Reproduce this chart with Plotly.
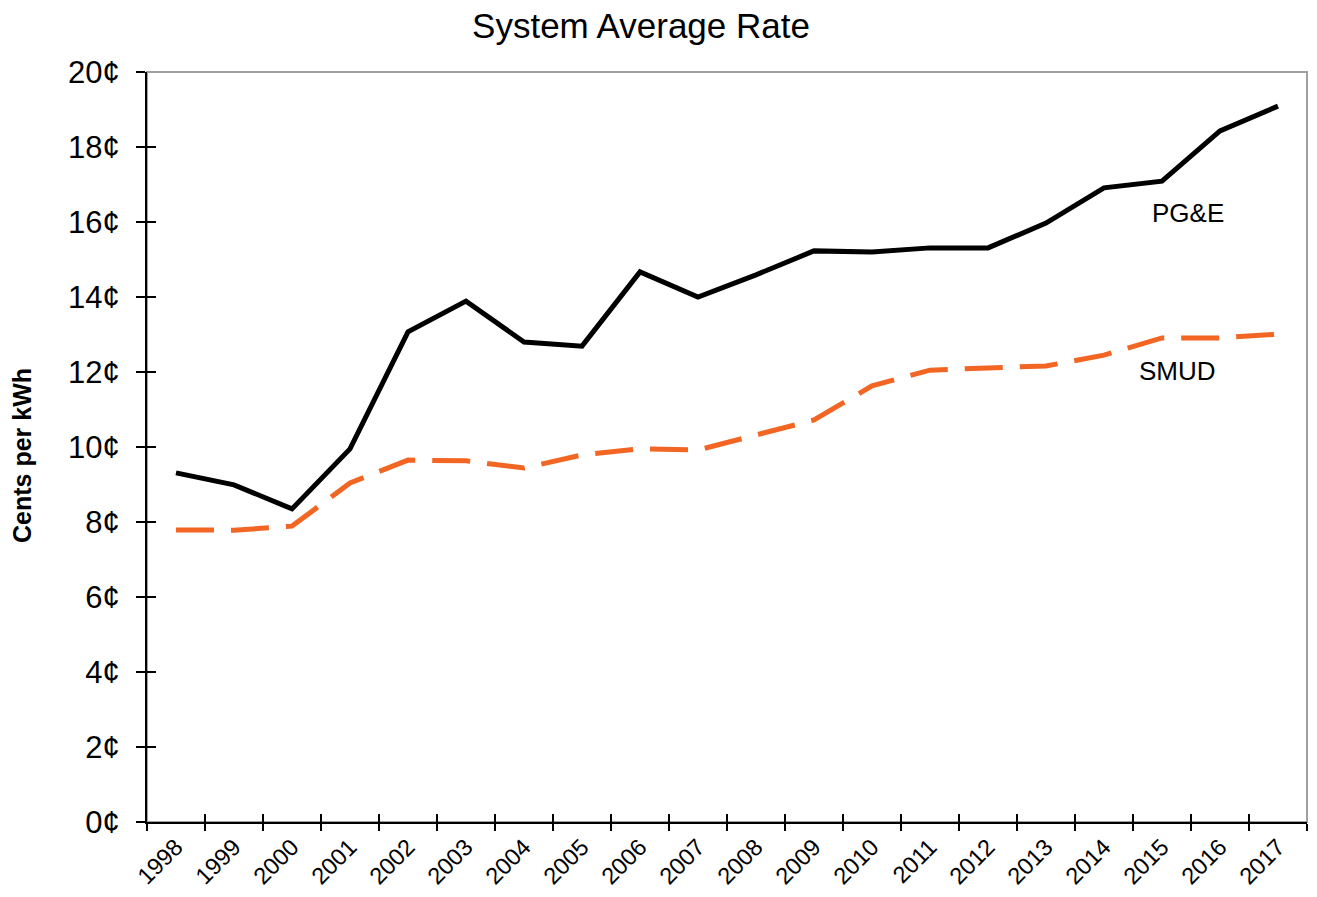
import plotly.graph_objects as go

years = [str(y) for y in range(1998, 2018)]
pge = [9.31, 8.99, 8.35, 9.95, 13.07, 13.89, 12.80, 12.69, 14.67, 14.00,
       14.59, 15.23, 15.20, 15.31, 15.31, 15.97, 16.91, 17.09, 18.43, 19.09]
smud = [7.79, 7.78, 7.89, 9.04, 9.65, 9.63, 9.44, 9.79, 9.95, 9.92,
        10.32, 10.72, 11.63, 12.05, 12.11, 12.16, 12.45, 12.91, 12.91, 13.01]
y_ticks = list(range(0, 21, 2))
y_ticktext = [f"{v}¢" for v in y_ticks]

FONT = "Liberation Sans, Arial, sans-serif"
ORANGE = "#F26522"
W, H = 1301, 881

fig = go.Figure()
fig.add_trace(go.Scatter(x=years, y=smud, mode="lines", name="SMUD",
                         line=dict(color=ORANGE, width=5, dash="38px,17px"),
                         hoverinfo="skip", showlegend=False))
fig.add_trace(go.Scatter(x=years, y=pge, mode="lines", name="PG&E",
                         line=dict(color="#000000", width=5),
                         hoverinfo="skip", showlegend=False))
# invisible helper trace for the inner half of the crossing tick marks
fig.add_trace(go.Scatter(x=years, y=pge, mode="lines", xaxis="x2", yaxis="y2",
                         line=dict(width=0), opacity=0, hoverinfo="skip",
                         showlegend=False))

fig.update_layout(
    width=W, height=H,
    margin=dict(l=139, r=2, t=64, b=67, autoexpand=False),
    paper_bgcolor="white", plot_bgcolor="white",
    font=dict(family=FONT, color="#000000"),
    title=dict(text="System Average Rate", x=633 / W, xanchor="center",
               y=1 - 18 / H, yanchor="middle", xref="container", yref="container",
               font=dict(size=35, family=FONT, color="#000000")),
    xaxis=dict(type="category", categoryorder="array", categoryarray=years,
               range=[-0.5, 19.5], tickson="boundaries", ticks="outside",
               ticklen=7, tickwidth=1.5, tickcolor="#000000",
               showline=True, linecolor="#000000", linewidth=2,
               showgrid=False, zeroline=False, tickangle=-45, automargin=False,
               tickfont=dict(size=23.5, family=FONT, color="#000000")),
    yaxis=dict(range=[0, 20], tickvals=y_ticks, ticktext=y_ticktext,
               ticks="outside", ticklen=9, tickwidth=1.5, tickcolor="#000000",
               showline=True, linecolor="#000000", linewidth=2,
               showgrid=False, zeroline=False, automargin=False,
               ticklabelstandoff=10,
               tickfont=dict(size=31, family=FONT, color="#000000")),
    xaxis2=dict(type="category", categoryorder="array", categoryarray=years,
                overlaying="x", range=[-0.5, 19.5], tickson="boundaries",
                ticks="inside", ticklen=8, tickwidth=1.5, tickcolor="#000000",
                showticklabels=False, showline=False, showgrid=False,
                zeroline=False, side="bottom", automargin=False),
    yaxis2=dict(overlaying="y", range=[0, 20], tickvals=y_ticks,
                ticks="inside", ticklen=9, tickwidth=1.5, tickcolor="#000000",
                showticklabels=False, showline=False, showgrid=False,
                zeroline=False, side="left", automargin=False),
    shapes=[dict(type="rect", xref="paper", yref="paper", x0=0, x1=1, y0=0, y1=1,
                 line=dict(color="#A0A0A0", width=2), layer="below")],
    annotations=[
        dict(text="<b>Cents per kWh</b>", x=-125 / 1160, y=0.488,
             xref="paper", yref="paper", textangle=-90, showarrow=False,
             xanchor="center", yanchor="middle",
             font=dict(size=25, family=FONT, color="#000000")),
        dict(text="PG&E", x=17.44, y=16.24, xref="x", yref="y", showarrow=False,
             font=dict(size=26, family=FONT, color="#000000")),
        dict(text="SMUD", x=17.27, y=12.03, xref="x", yref="y", showarrow=False,
             font=dict(size=26, family=FONT, color="#000000")),
    ],
)

fig.write_html("out.html")
